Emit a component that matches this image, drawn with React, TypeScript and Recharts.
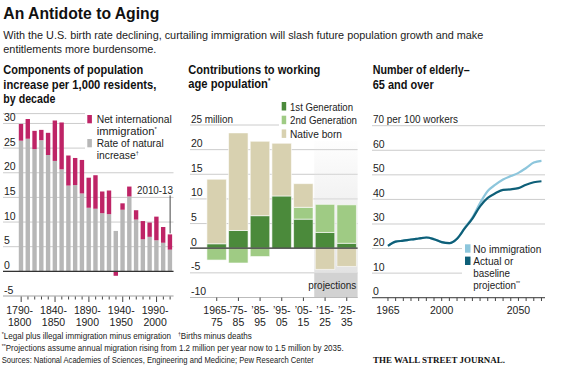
import React from 'react';
import {
  BarChart,
  Bar,
  LineChart,
  Line,
  XAxis,
  YAxis,
  CartesianGrid,
  ReferenceLine,
  ReferenceArea,
} from 'recharts';

const FONT = "'Liberation Sans', Arial, sans-serif";
const TXT = '#222';

// ---------- Panel 1: components of population increase ----------
const decades = [
  '1790-1800', '1800-1810', '1810-1820', '1820-1830', '1830-1840', '1840-1850',
  '1850-1860', '1860-1870', '1870-1880', '1880-1890', '1890-1900', '1900-1910',
  '1910-1920', '1920-1930', '1930-1940', '1940-1950', '1950-1960', '1960-1970',
  '1970-1980', '1980-1990', '1990-2000', '2000-2010', '2010-13',
];
const naturalIncrease = [
  26.5, 26.9, 24.8, 26.6, 23.6, 22.4, 20.7, 17.4, 17.5, 15.8, 12.9, 12.7,
  11.8, 11.6, 8.2, 12.5, 15.2, 10.5, 6.5, 7.0, 6.3, 5.8, 4.4,
];
const netImmigration = [
  3.4, 4.0, 3.7, 2.1, 4.5, 8.2, 9.5, 6.1, 5.5, 6.8, 6.1, 6.8,
  4.4, 4.8, -0.9, 1.3, 2.0, 1.9, 3.7, 2.9, 4.8, 3.2, 3.1,
];
const decadeTickLabels: Record<string, [string, string]> = {
  '1790-1800': ['1790-', '1800'],
  '1840-1850': ['1840-', '1850'],
  '1890-1900': ['1890-', '1900'],
  '1940-1950': ['1940-', '1950'],
  '1990-2000': ['1990-', '2000'],
};
const leftYTicks = [-5, 0, 5, 10, 15, 20, 25, 30];

// ---------- Panel 2: contributions to working-age population ----------
const periods = ['1965-75', '1975-85', '1985-95', '1995-05', '2005-15', '2015-25', '2025-35'];
const periodTickLabels: [string, string][] = [
  ['1965-', '75'], ['\u201975-', '85'], ['\u201985-', '95'], ['\u201995-', '05'],
  ['\u201905-', '15'], ['\u201915-', '25'], ['\u201925-', '35'],
];
const firstGeneration = [0.9, 3.6, 6.6, 10.6, 5.9, 3.2, 1.0];
const secondGeneration = [-2.4, -3.0, -1.7, 0, 2.4, 5.7, 7.8];
const nativeBorn = [13.1, 19.8, 15.1, 10.7, 4.8, -4.3, -3.7];
const midYTicks = [-10, -5, 0, 5, 10, 15, 20, 25];

// ---------- Panel 3: elderly per 100 workers ----------
const years = [
  1965, 1970, 1975, 1980, 1985, 1990, 1995, 2000, 2005, 2010, 2015,
  2020, 2025, 2030, 2035, 2040, 2045, 2050, 2055, 2060, 2065,
];
const baselineProjection = [
  21.1, 22.8, 23.2, 23.7, 24.1, 24.5, 23.8, 22.6, 22.2, 24.0, 28.2,
  32.2, 37.2, 40.6, 42.5, 43.9, 44.1, 44.6, 46.0, 47.0, 47.4,
];
const noImmigration = [
  21.1, 22.8, 23.2, 23.7, 24.1, 24.5, 23.8, 22.6, 22.2, 24.0, 28.4,
  32.6, 38.5, 43.4, 46.0, 48.1, 49.5, 50.8, 52.8, 55.0, 55.7,
];
const rightYTicks = [0, 10, 20, 30, 40, 50, 60, 70];
const rightLabeledYears = [1965, 2000, 2050];

const leftData = decades.map((d, i) => ({
  period: d,
  natural: naturalIncrease[i],
  immigration: netImmigration[i],
}));
const midData = periods.map((p, i) => ({
  period: p,
  first: firstGeneration[i],
  second: secondGeneration[i],
  native: nativeBorn[i],
}));
const rightData = years.map((y, i) => ({
  year: y,
  baseline: baselineProjection[i],
  noImm: noImmigration[i],
}));

const PINK = '#be2466';
const GRAY = '#b7b7b7';
const DKGREEN = '#4b8a3b';
const LTGREEN = '#9fcb84';
const TAN = '#d8d1b0';
const TEAL = '#0e5f78';
const LTBLUE = '#8dc6dc';
const GRID = '#cccccc';
const TICKFS = 10.5;

const yTick = (x0: number, top: number, topLabel: string, topW: number) => (props: any) => {
  const v = props.payload.value;
  const isTop = v === top;
  return (
    <text
      x={x0}
      y={props.y - 2.5}
      fontSize={TICKFS}
      fontFamily={FONT}
      fill={TXT}
      textAnchor="start"
      {...(isTop ? { textLength: topW, lengthAdjust: 'spacingAndGlyphs' } : {})}
    >
      {isTop ? topLabel : String(v)}
    </text>
  );
};

const LeftXTick = (props: any) => {
  const { x, payload } = props;
  const lbl = decadeTickLabels[payload.value];
  return (
    <g>
      <line x1={x} x2={x} y1={296.5} y2={lbl ? 302 : 299.5} stroke="#444" strokeWidth={1} />
      {lbl && (
        <text fontSize={TICKFS} fontFamily={FONT} fill={TXT} textAnchor="middle">
          <tspan x={x - 1.5} y={314}>{lbl[0]}</tspan>
          <tspan x={x - 1.5} y={326}>{lbl[1]}</tspan>
        </text>
      )}
    </g>
  );
};

const MidXTick = (props: any) => {
  const { x, payload } = props;
  const idx = periods.indexOf(payload.value);
  const lbl = periodTickLabels[idx];
  return (
    <g>
      <line x1={x} x2={x} y1={297.5} y2={301} stroke="#444" strokeWidth={1} />
      {lbl && (
        <text fontSize={TICKFS} fontFamily={FONT} fill={TXT} textAnchor="middle">
          <tspan x={x} y={314}>{lbl[0]}</tspan>
          <tspan x={x} y={326}>{lbl[1]}</tspan>
        </text>
      )}
    </g>
  );
};

const RightXTick = (props: any) => {
  const { x, payload } = props;
  const v = payload.value;
  const show = rightLabeledYears.includes(v);
  return (
    <g>
      <line x1={x} x2={x} y1={297.7} y2={301} stroke="#444" strokeWidth={1} />
      {show && (
        <text x={x} y={314} fontSize={TICKFS} fontFamily={FONT} fill={TXT} textAnchor="middle">
          {v}
        </text>
      )}
    </g>
  );
};

// Text with a fixed rendered width (condensed newspaper face)
const T = (p: {
  x: number; y: number; w: number; size?: number; bold?: boolean;
  anchor?: 'start' | 'end' | 'middle'; fill?: string; family?: string; children: React.ReactNode;
}) => (
  <text
    x={p.x}
    y={p.y}
    fontSize={p.size ?? 11.5}
    fontWeight={p.bold ? 'bold' : 'normal'}
    textAnchor={p.anchor ?? 'start'}
    fill={p.fill ?? TXT}
    fontFamily={p.family ?? FONT}
    textLength={p.w}
    lengthAdjust="spacingAndGlyphs"
  >
    {p.children}
  </text>
);

const abs: React.CSSProperties = { position: 'absolute', left: 0, top: 0 };

export default function App() {
  return (
    <div style={{ position: 'absolute', left: 0, top: 0, width: 561, height: 380, background: '#fff', overflow: 'hidden' }}>
      <svg width={0} height={0} style={{ position: 'absolute' }}>
        <defs>
          <linearGradient id="projGrad" x1="0" y1="0" x2="0" y2="1">
            <stop offset="0%" stopColor="#e4e4e4" stopOpacity={0} />
            <stop offset="100%" stopColor="#e2e2e2" stopOpacity={1} />
          </linearGradient>
        </defs>
      </svg>

      {/* Panel 1 */}
      <div style={abs}>
        <BarChart
          width={561}
          height={380}
          data={leftData}
          stackOffset="sign"
          barSize={4.4}
          margin={{ top: 113.6, right: 561 - 173.5, bottom: 83, left: 2 }}
        >
          <CartesianGrid vertical={false} stroke={GRID} />
          <XAxis
            dataKey="period"
            height={1}
            interval={0}
            tickLine={false}
            axisLine={{ stroke: '#bbb' }}
            tick={<LeftXTick />}
            padding={{ left: 14.8, right: 0 }}
          />
          <YAxis
            width={1}
            domain={[-5, 32]}
            ticks={leftYTicks}
            interval={0}
            axisLine={false}
            tickLine={false}
            tick={yTick(4, 999, '', 0)}
          />
          <Bar dataKey="natural" stackId="a" fill={GRAY} isAnimationActive={false} />
          <Bar dataKey="immigration" stackId="a" fill={PINK} isAnimationActive={false} />
          <ReferenceLine y={0} stroke="#333" strokeWidth={1.2} />
          <ReferenceLine
            segment={[{ x: '2010-13', y: 7.7 }, { x: '2010-13', y: 15.4 }]}
            stroke="#444"
            strokeWidth={1}
          />
        </BarChart>
      </div>

      {/* Panel 2 */}
      <div style={abs}>
        <BarChart
          width={561}
          height={380}
          data={midData}
          stackOffset="sign"
          barSize={19.5}
          margin={{ top: 125, right: 561 - 357.6, bottom: 81.5, left: 189 }}
        >
          <CartesianGrid vertical={false} stroke={GRID} />
          <ReferenceArea x1="2015-25" x2="2025-35" y1={-10} y2={-5} fill="#d2d2d2" fillOpacity={1} stroke="none" />
          <ReferenceArea x1="2015-25" x2="2025-35" y1={-5} y2={23} fill="url(#projGrad)" fillOpacity={1} stroke="none" />
          <XAxis
            dataKey="period"
            height={1}
            interval={0}
            tickLine={false}
            axisLine={{ stroke: '#bbb' }}
            tick={<MidXTick />}
            padding={{ left: 15.9, right: 0 }}
          />
          <YAxis
            width={1}
            domain={[-10, 25]}
            ticks={midYTicks}
            interval={0}
            axisLine={false}
            tickLine={false}
            tick={yTick(191, 25, '25 million', 42)}
          />
          <Bar dataKey="first" stackId="g" fill={DKGREEN} stroke="#fff" strokeWidth={0.6} isAnimationActive={false} />
          <Bar dataKey="second" stackId="g" fill={LTGREEN} stroke="#fff" strokeWidth={0.6} isAnimationActive={false} />
          <Bar dataKey="native" stackId="g" fill={TAN} stroke="#fff" strokeWidth={0.6} isAnimationActive={false} />
          <ReferenceLine y={0} stroke="#333" strokeWidth={1.2} />
        </BarChart>
      </div>

      {/* Panel 3 */}
      <div style={abs}>
        <LineChart
          width={561}
          height={380}
          data={rightData}
          margin={{ top: 125.7, right: 16, bottom: 81.3, left: 371 }}
        >
          <CartesianGrid vertical={false} stroke={GRID} />
          <XAxis
            dataKey="year"
            type="number"
            domain={[1954.6, 2067.3]}
            ticks={years}
            interval={0}
            height={1}
            tickLine={false}
            axisLine={{ stroke: '#444' }}
            tick={<RightXTick />}
          />
          <YAxis
            width={1}
            domain={[0, 70]}
            ticks={rightYTicks}
            interval={0}
            axisLine={false}
            tickLine={false}
            tick={yTick(373, 70, '70 per 100 workers', 85)}
          />
          <Line type="monotone" dataKey="noImm" stroke={LTBLUE} strokeWidth={2.2} dot={false} isAnimationActive={false} />
          <Line type="monotone" dataKey="baseline" stroke={TEAL} strokeWidth={2.2} dot={false} isAnimationActive={false} />
        </LineChart>
      </div>

      {/* Text overlay */}
      <svg width={561} height={380} style={{ ...abs, pointerEvents: 'none' }}>
        <T x={3.3} y={19} w={156} size={17} bold fill="#111">An Antidote to Aging</T>
        <T x={3.3} y={39} w={480}>With the U.S. birth rate declining, curtailing immigration will slash future population growth and make</T>
        <T x={3.3} y={52.5} w={153}>entitlements more burdensome.</T>

        <T x={3.3} y={74} w={140} size={13} bold fill="#111">Components of population</T>
        <T x={3.3} y={88.5} w={153} size={13} bold fill="#111">increase per 1,000 residents,</T>
        <T x={3.3} y={103} w={52} size={13} bold fill="#111">by decade</T>
        <T x={188.3} y={74} w={132} size={13} bold fill="#111">Contributions to working</T>
        <T x={188.3} y={88} w={82} size={13} bold fill="#111">age population<tspan fontSize={7} dy={-5}>*</tspan></T>
        <T x={372.7} y={74} w={97} size={13} bold fill="#111">Number of elderly–</T>
        <T x={372.7} y={88.5} w={61} size={13} bold fill="#111">65 and over</T>

        {/* left legend */}
        <rect x={85} y={111} width={91} height={51} fill="#fff" />
        <rect x={87.3} y={115} width={4.6} height={8.3} fill={PINK} />
        <rect x={87.3} y={139} width={4.6} height={8.3} fill={GRAY} />
        <T x={96.7} y={123.3} w={75}>Net international</T>
        <T x={96.7} y={135.3} w={60}>immigration<tspan fontSize={6} dy={-4}>*</tspan></T>
        <T x={96.7} y={147.3} w={67}>Rate of natural</T>
        <T x={96.7} y={159.3} w={42}>increase<tspan fontSize={6} dy={-4}>†</tspan></T>
        <T x={137} y={194} w={36}>2010-13</T>

        {/* middle legend */}
        <rect x={279} y={100} width={81} height={41} fill="#fff" />
        <rect x={281.7} y={102} width={4.5} height={8.5} fill={DKGREEN} />
        <rect x={281.7} y={115.7} width={4.5} height={8.5} fill={LTGREEN} />
        <rect x={281.7} y={129.4} width={4.5} height={8.5} fill={TAN} />
        <T x={290} y={110.5} w={63}>1st Generation</T>
        <T x={290} y={124.2} w={67}>2nd Generation</T>
        <T x={290} y={137.9} w={52}>Native born</T>
        <T x={308.3} y={289} w={48}>projections</T>

        {/* right legend */}
        <rect x={462} y={240} width={86} height={54} fill="#fff" />
        <rect x={465} y={244.3} width={5.5} height={8.4} fill={LTBLUE} />
        <rect x={465} y={256.6} width={5.5} height={8.4} fill={TEAL} />
        <T x={473.3} y={252.7} w={68}>No immigration</T>
        <T x={473.3} y={265} w={40}>Actual or</T>
        <T x={473.3} y={277.2} w={36.7}>baseline</T>
        <T x={473.3} y={289.4} w={46.7}>projection<tspan fontSize={6} dy={-4}>**</tspan></T>

        {/* footnotes */}
        <T x={1.7} y={339} w={250} size={9.3}>
          <tspan fontSize={6} dy={-3}>*</tspan>
          <tspan dy={3}>Legal plus illegal immigration minus emigration</tspan>
          <tspan dx={8} fontSize={6} dy={-3}>†</tspan>
          <tspan dy={3}>Births minus deaths</tspan>
        </T>
        <T x={1.7} y={351} w={342} size={9.3}>
          <tspan fontSize={6} dy={-3}>**</tspan>
          <tspan dy={3}>Projections assume annual migration rising from 1.2 million per year now to 1.5 million by 2035.</tspan>
        </T>
        <T x={1.7} y={363} w={312} size={9.3}>Sources: National Academies of Sciences, Engineering and Medicine; Pew Research Center</T>
        <T x={373} y={362.5} w={132} size={8.8} bold fill="#111" family="'Liberation Serif', 'DejaVu Serif', serif">
          THE WALL STREET JOURNAL.
        </T>
      </svg>
    </div>
  );
}
